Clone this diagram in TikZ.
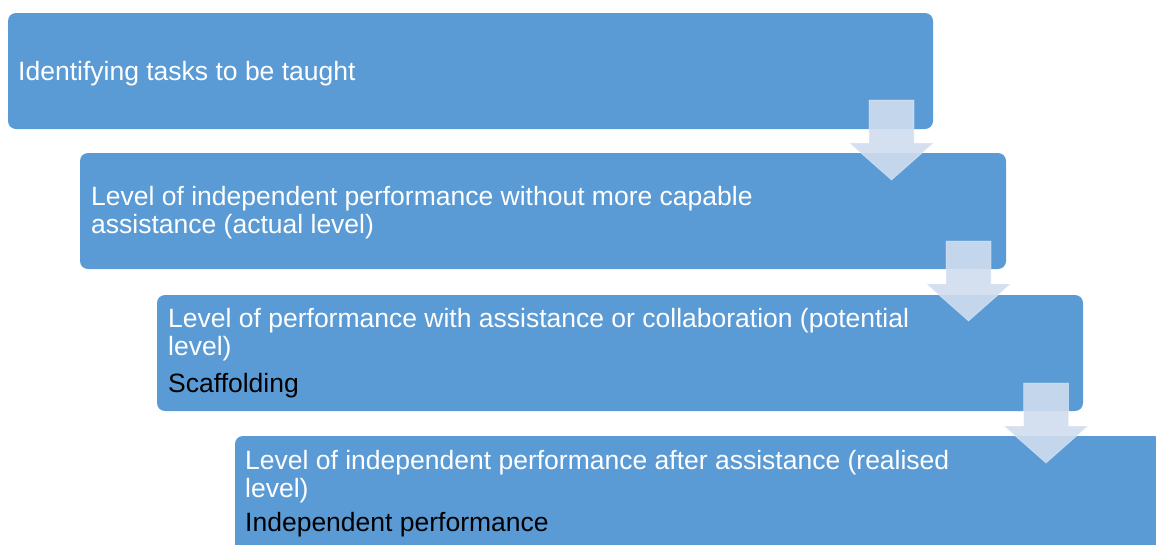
\documentclass[tikz,border=0pt]{standalone}
\usepackage{fontspec}
\setmainfont{Liberation Sans}
\usetikzlibrary{calc}
\definecolor{boxblue}{RGB}{91,155,213}
\definecolor{arrowfill}{RGB}{208,221,239}
\tikzset{
  stepbox/.style={fill=boxblue, rounded corners=8pt, draw=none},
  maintxt/.style={anchor=base west, inner sep=0pt, text=white, font=\fontsize{26.5}{28}\selectfont},
  subtxt/.style={anchor=base west, inner sep=0pt, text=black, font=\fontsize{26.5}{28}\selectfont},
  blockarrow/.style={fill=arrowfill, fill opacity=0.9, draw=white, draw opacity=0.35, line width=0.8pt}
}
\newcommand{\downblock}[3]{% name, center x, top y
  \draw[blockarrow] (#2-22.5,#3) -- (#2+22.5,#3) -- (#2+22.5,#3+43) -- (#2+42,#3+43)
    -- (#2,#3+80) -- (#2-42,#3+43) -- (#2-22.5,#3+43) -- cycle;
  \coordinate (#1) at (#2,#3+80);
}
\begin{document}
\begin{tikzpicture}[x=1pt,y=-1pt]
\useasboundingbox (0,0) rectangle (1156,544);
\fill[white] (0,0) rectangle (1156,544);
% boxes
\begin{scope}
\clip (0,0) rectangle (1156,544);
\path[stepbox] (8,13) rectangle (933,129) coordinate (b1se);
\path[stepbox] (80,153) rectangle (1006,269) coordinate (b2se);
\path[stepbox] (157,295) rectangle (1083,411) coordinate (b3se);
\path[stepbox] (235,436) rectangle (1162,556) coordinate (b4se);
\end{scope}
% texts
\node[maintxt] (t1) at (18,80) {Identifying tasks to be taught};
\node[maintxt] (t2a) at (91,205) {Level of independent performance without more capable};
\node[maintxt] (t2b) at (91,233) {assistance (actual level)};
\node[maintxt] (t3a) at (168,327) {Level of performance with assistance or collaboration (potential};
\node[maintxt] (t3b) at (168,355) {level)};
\node[subtxt] (t3c) at (168,392) {Scaffolding};
\node[maintxt] (t4a) at (245,469) {Level of independent performance after assistance (realised};
\node[maintxt] (t4b) at (245,497) {level)};
\node[subtxt] (t4c) at (245,531) {Independent performance};
% arrows
\downblock{a1}{891.5}{100}
\downblock{a2}{968.5}{241}
\downblock{a3}{1046}{383}
\end{tikzpicture}
\end{document}
